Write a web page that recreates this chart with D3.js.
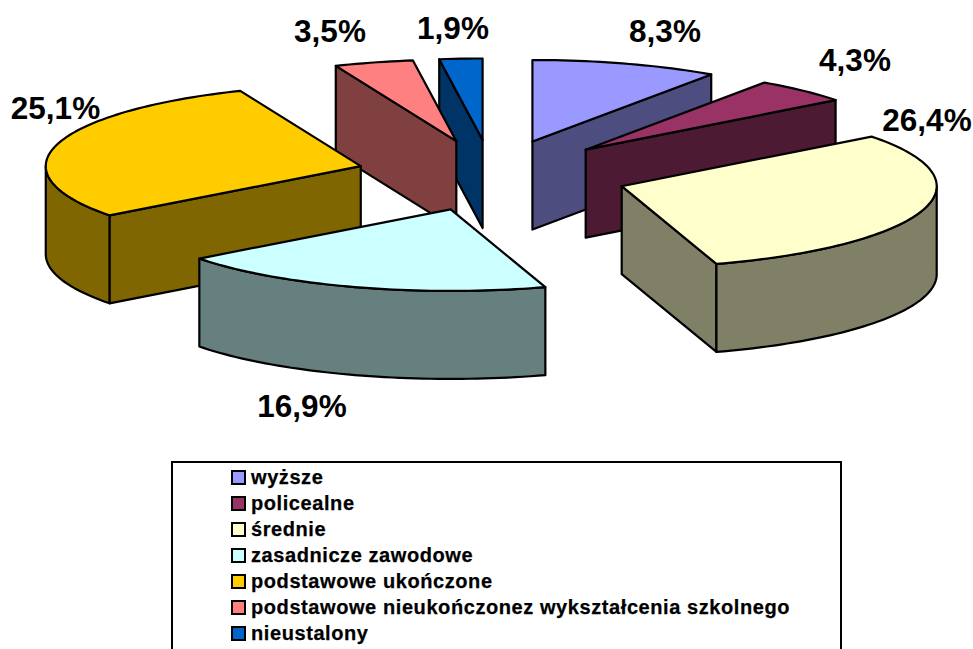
<!DOCTYPE html>
<html><head><meta charset="utf-8">
<style>html,body{margin:0;padding:0;background:#fff;overflow:hidden}svg{display:block}text{font-family:"Liberation Sans",Arial,sans-serif;font-weight:bold;fill:#000}</style>
<script src="https://cdn.jsdelivr.net/npm/d3@7/dist/d3.min.js"></script>
</head><body><svg id="c" width="973" height="649"></svg>
<script>
const categories = ["wyższe","policealne","średnie","zasadnicze zawodowe","podstawowe ukończone","podstawowe nieukończonez wykształcenia szkolnego","nieustalony"];
const values = [8.3,4.3,26.4,16.9,25.1,3.5,1.9];
const labels = ["8,3%","4,3%","26,4%","16,9%","25,1%","3,5%","1,9%"];
const topColors = ["#9999FF","#993366","#FFFFCC","#CCFFFF","#FFCC00","#FF8080","#0066CC"];
const sideColors = ["#4D4D80","#4D1A33","#808066","#668080","#806600","#804040","#003366"];

// layout
const cx=492, cy=175.5, rx=315, ry=81.5, depth=88, explode=136, explodeY=35.6;
const labelX=[665,855,927,302,55.5,330,453], labelY=[31,60,120,406,108,31,28];

const svg=d3.select("#c");
const pie=d3.pie().sort(null).value(d=>d)(values);
const line=d3.line();
const slices=pie.map((p,i)=>{
  const mid=(p.startAngle+p.endAngle)/2;
  return {i,t0:p.startAngle,t1:p.endAngle,
    ax:cx+explode*Math.sin(mid), ay:cy-explodeY*Math.cos(mid)};
}).sort((a,b)=>a.ay-b.ay);
const pt=(s,t,dz=0)=>[s.ax+rx*Math.sin(t), s.ay-ry*Math.cos(t)+dz];
const arcPts=(s,a,b,dz=0)=>{const n=Math.max(2,Math.ceil(Math.abs(b-a)*40));
  return d3.range(n+1).map(k=>pt(s,a+(b-a)*k/n,dz));};
const P=Math.PI, SW=2.2;
const sideStyle=(g,s)=>g.attr("fill",sideColors[s.i]).attr("stroke","#000").attr("stroke-width",SW).attr("stroke-linejoin","round");
slices.forEach(s=>{
  const g=svg.append("g");
  const wall=t=>{const e=pt(s,t);
    sideStyle(g.append("path"),s).attr("d",line([[s.ax,s.ay],e,[e[0],e[1]+depth],[s.ax,s.ay+depth]])+"Z");};
  if(Math.sin(s.t0)<0) wall(s.t0);
  if(Math.sin(s.t1)>0) wall(s.t1);
  const a=Math.max(s.t0,P/2), b=Math.min(s.t1,3*P/2);
  if(b>a){
    const top=arcPts(s,a,b), bot=arcPts(s,b,a,depth);
    sideStyle(g.append("path"),s).attr("d",line(top.concat(bot))+"Z");
  }
  g.append("path").attr("d",line([[s.ax,s.ay]].concat(arcPts(s,s.t0,s.t1)))+"Z")
    .attr("fill",topColors[s.i]).attr("stroke","#000").attr("stroke-width",SW).attr("stroke-linejoin","round");
});

svg.selectAll("text.pct").data(labels).join("text").attr("class","pct")
  .attr("x",(d,i)=>labelX[i]).attr("y",(d,i)=>labelY[i]).attr("dy","0.36em")
  .attr("text-anchor","middle").attr("font-size",31.5).text(d=>d);

// legend
svg.append("rect").attr("x",172).attr("y",462).attr("width",669).attr("height",200)
  .attr("fill","#fff").attr("stroke","#000").attr("stroke-width",2);
const ly=d3.scalePoint().domain(categories).range([477.5,633.5]);
const lg=svg.selectAll("g.l").data(categories).join("g").attr("class","l");
lg.append("rect").attr("x",232).attr("y",d=>ly(d)-6.5).attr("width",13).attr("height",13)
  .attr("fill",(d,i)=>topColors[i]).attr("stroke","#000").attr("stroke-width",2);
lg.append("text").attr("x",251).attr("y",d=>ly(d)-0.5).attr("dy","0.36em").attr("font-size",20).attr("letter-spacing",0.58)
  .attr("stroke","#000").attr("stroke-width",0.25).text(d=>d);
</script></body></html>
